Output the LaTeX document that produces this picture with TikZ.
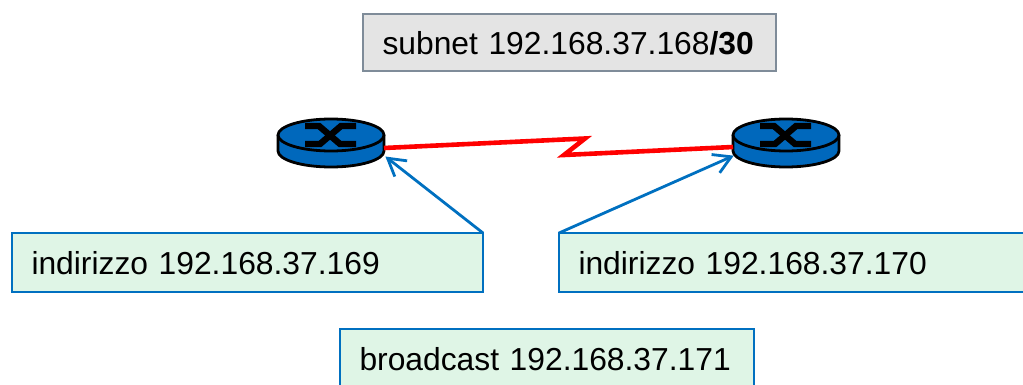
\documentclass[tikz,border=0pt]{standalone}
\usepackage{fontspec}
\setmainfont{Liberation Sans}
\usetikzlibrary{arrows.meta,calc}
\definecolor{boxblue}{HTML}{0070C0}
\definecolor{routerblue}{HTML}{0068BC}
\definecolor{greenfill}{HTML}{DFF5E6}
\definecolor{grayfill}{HTML}{E4E4E4}
\definecolor{grayline}{HTML}{7F8C99}
\pgfdeclarearrow{
  name=OpenVee,
  setup code={%
    \pgfarrowssettipend{0pt}%
    \pgfarrowssetlineend{-2pt}%
    \pgfarrowssetvisualbackend{-19pt}%
    \pgfarrowssetbackend{-19pt}%
    \pgfarrowshullpoint{0pt}{0pt}%
    \pgfarrowshullpoint{-19pt}{10pt}%
    \pgfarrowshullpoint{-19pt}{-10pt}},
  drawing code={%
    \pgfsetdash{}{0pt}%
    \pgfsetmiterjoin
    \pgfpathmoveto{\pgfqpoint{-19pt}{10pt}}%
    \pgfpathlineto{\pgfqpoint{-2pt}{0pt}}%
    \pgfpathlineto{\pgfqpoint{-19pt}{-10pt}}%
    \pgfusepathqstroke},
  defaults={}
}
\tikzset{
  labelbox/.style={draw=boxblue,line width=2pt,fill=greenfill,anchor=north west,outer sep=0pt,inner ysep=0pt,inner xsep=19.5pt,align=left,text=black,text height=26pt,text depth=2pt,font=\fontsize{31.8pt}{36pt}\selectfont},
  subnetbox/.style={labelbox,draw=grayline,fill=grayfill},
  routerbox/.style={minimum width=106pt,minimum height=50pt,inner sep=0pt},
  redlink/.style={draw=red,line width=4.6pt,line join=miter},
  callout/.style={draw=boxblue,line width=2.8pt,-{OpenVee}},
}
\newcommand{\routericon}[1]{%
  \begin{scope}[shift={(#1.center)}]
    \fill[routerblue] (-53,-9) -- (-53,7) arc[start angle=180,end angle=0,x radius=53,y radius=16] -- (53,-9) -- cycle;
    \draw[black,line width=2.8pt] (-53,-9) -- (-53,7) arc[start angle=180,end angle=0,x radius=53,y radius=16] -- (53,-9);
    \draw[black,fill=routerblue,line width=2.8pt] (0,-9) ellipse[x radius=53,y radius=16];
    \draw[black,line width=6.4pt] (-26,-18) -- (-12,-18) -- (9,0) -- (25,0);
    \draw[black,line width=6.4pt] (-26,0) -- (-11,0) -- (10,-18) -- (25,-18);
  \end{scope}}
\begin{document}
\begin{tikzpicture}[x=1pt,y=-1pt]
\useasboundingbox (0,0) rectangle (1023,385);
\node[routerbox] (r1) at (331,144) {};
\node[routerbox] (r2) at (786,144) {};
\routericon{r1}
\routericon{r2}
\coordinate (zigA) at (585,138.5);
\coordinate (zigB) at (564,155);
\path[redlink] ($(r1.center)+(53,4)$) -- (zigA) -- (zigB) -- ($(r2.center)+(-53,3)$);
\node[subnetbox,minimum height=57pt,text width=374pt] (sub) at (363,14) {subnet 192.168.37.168\textbf{/30}};
\node[labelbox,minimum height=59pt,text width=432pt] (a1) at (12,233) {indirizzo 192.168.37.169};
\node[labelbox,minimum height=59pt,text width=431pt] (a2) at (559,233) {indirizzo 192.168.37.170};
\node[labelbox,minimum height=59pt,text width=375pt] (b) at (340,329) {broadcast 192.168.37.171};
\draw[callout] (a1.north east) -- ($(r1.center)+(55,13)$);
\draw[callout] (a2.north west) -- ($(r2.center)+(-53,12)$);
\end{tikzpicture}
\end{document}
